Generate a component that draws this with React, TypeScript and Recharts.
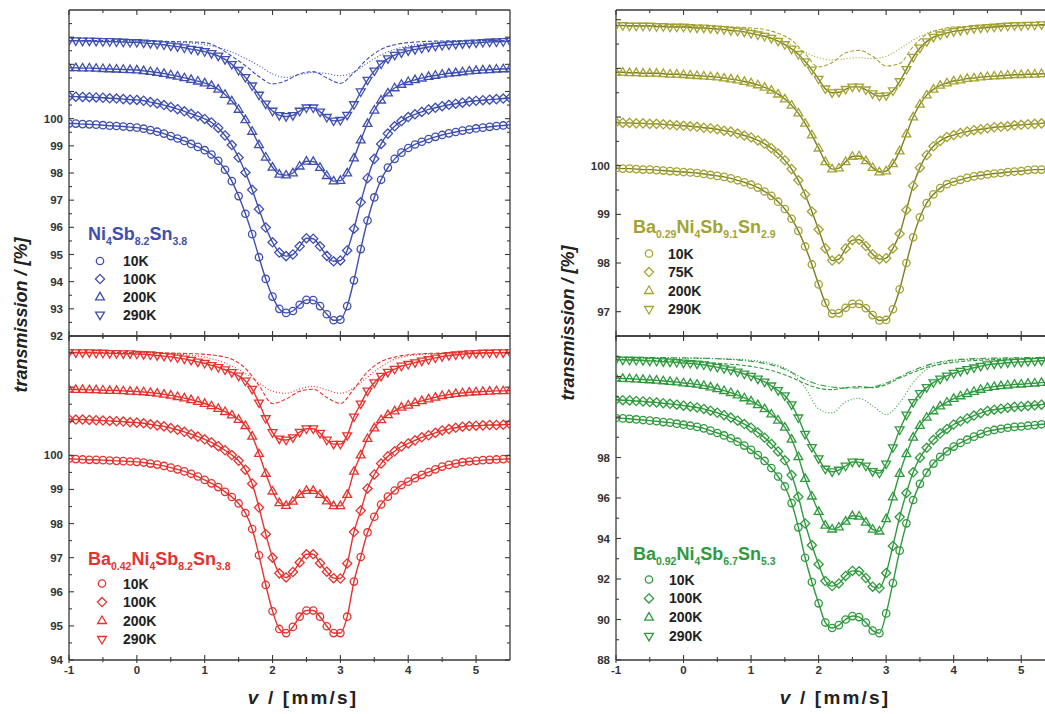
import React from 'react'
import { LineChart, Line, XAxis, YAxis } from 'recharts'

// velocity grid of the measured spectra (mm/s)
const V = [-1, -0.9, -0.8, -0.7, -0.6, -0.5, -0.4, -0.3, -0.2, -0.1, 0, 0.1, 0.2, 0.3, 0.4, 0.5, 0.6, 0.7, 0.8, 0.9, 1, 1.1, 1.2, 1.3, 1.4, 1.5, 1.6, 1.7, 1.8, 1.9, 2, 2.1, 2.2, 2.3, 2.4, 2.5, 2.6, 2.7, 2.8, 2.9, 3, 3.1, 3.2, 3.3, 3.4, 3.5, 3.6, 3.7, 3.8, 3.9, 4, 4.1, 4.2, 4.3, 4.4, 4.5, 4.6, 4.7, 4.8, 4.9, 5, 5.1, 5.2, 5.3, 5.4, 5.5]
// coarser grid for the sub-spectra of the 290K fits
const VC = [-1, -0.5, 0, 0.5, 1, 1.2, 1.4, 1.6, 1.8, 2, 2.2, 2.4, 2.6, 2.8, 3, 3.2, 3.4, 3.6, 3.8, 4, 4.5, 5, 5.5]

const XT = [-1, -0.5, 0, 0.5, 1, 1.5, 2, 2.5, 3, 3.5, 4, 4.5, 5]

// Ni4Sb8.2Sn3.8
const tl10 = [99.82, 99.82, 99.8, 99.79, 99.78, 99.76, 99.74, 99.73, 99.71, 99.69, 99.67, 99.63, 99.58, 99.52, 99.45, 99.36, 99.27, 99.18, 99.07, 98.96, 98.84, 98.68, 98.45, 98.12, 97.7, 97.15, 96.5, 95.75, 94.9, 94.1, 93.45, 93.0, 92.85, 92.92, 93.15, 93.33, 93.32, 93.1, 92.8, 92.58, 92.6, 93.1, 94.05, 95.2, 96.25, 97.1, 97.75, 98.2, 98.52, 98.75, 98.92, 99.05, 99.15, 99.25, 99.33, 99.4, 99.46, 99.51, 99.56, 99.6, 99.64, 99.67, 99.7, 99.73, 99.75, 99.77]
const tl100 = [100.82, 100.81, 100.8, 100.79, 100.78, 100.77, 100.75, 100.74, 100.72, 100.7, 100.69, 100.66, 100.61, 100.56, 100.5, 100.43, 100.35, 100.27, 100.18, 100.09, 99.99, 99.86, 99.66, 99.38, 99.03, 98.57, 98.02, 97.38, 96.67, 95.99, 95.45, 95.07, 94.94, 95.0, 95.3, 95.6, 95.58, 95.3, 94.95, 94.75, 94.78, 95.15, 95.95, 96.92, 97.81, 98.52, 99.07, 99.45, 99.72, 99.91, 100.06, 100.16, 100.25, 100.34, 100.4, 100.46, 100.51, 100.55, 100.59, 100.63, 100.66, 100.68, 100.7, 100.72, 100.74, 100.76]
const tl200 = [101.87, 101.87, 101.86, 101.86, 101.85, 101.84, 101.83, 101.82, 101.81, 101.8, 101.79, 101.76, 101.73, 101.7, 101.66, 101.61, 101.56, 101.5, 101.44, 101.38, 101.31, 101.22, 101.08, 100.89, 100.65, 100.34, 99.96, 99.53, 99.04, 98.58, 98.21, 97.95, 97.92, 98.0, 98.25, 98.43, 98.42, 98.2, 97.9, 97.7, 97.72, 98.0, 98.55, 99.21, 99.82, 100.31, 100.68, 100.94, 101.13, 101.26, 101.36, 101.43, 101.49, 101.55, 101.59, 101.63, 101.67, 101.69, 101.72, 101.75, 101.77, 101.79, 101.8, 101.82, 101.83, 101.84]
const tl290 = [102.87, 102.87, 102.86, 102.86, 102.85, 102.84, 102.84, 102.83, 102.82, 102.81, 102.81, 102.79, 102.77, 102.75, 102.72, 102.68, 102.65, 102.61, 102.56, 102.52, 102.47, 102.4, 102.31, 102.18, 102.0, 101.78, 101.52, 101.21, 100.87, 100.54, 100.28, 100.12, 100.08, 100.12, 100.28, 100.4, 100.4, 100.25, 100.05, 99.92, 99.94, 100.13, 100.52, 100.99, 101.42, 101.76, 102.02, 102.21, 102.34, 102.43, 102.5, 102.55, 102.59, 102.64, 102.67, 102.7, 102.72, 102.74, 102.76, 102.78, 102.79, 102.81, 102.82, 102.83, 102.84, 102.85]
const tlDash = [102.88, 102.87, 102.86, 102.84, 102.8, 102.62, 102.3, 101.95, 101.55, 101.28, 101.4, 101.65, 101.73, 101.5, 101.3, 101.7, 102.2, 102.55, 102.72, 102.8, 102.86, 102.87, 102.88]
const tlDot = [102.88, 102.87, 102.86, 102.83, 102.72, 102.62, 102.45, 102.22, 101.95, 101.65, 101.52, 101.62, 101.7, 101.66, 101.58, 101.72, 102.05, 102.35, 102.55, 102.68, 102.8, 102.85, 102.87]

// Ba0.42Ni4Sb8.2Sn3.8
const bl10 = [99.9, 99.89, 99.88, 99.87, 99.87, 99.86, 99.85, 99.84, 99.83, 99.82, 99.81, 99.79, 99.76, 99.73, 99.69, 99.64, 99.59, 99.53, 99.46, 99.38, 99.28, 99.18, 99.07, 98.93, 98.78, 98.59, 98.31, 97.84, 97.07, 96.2, 95.43, 94.91, 94.79, 94.97, 95.27, 95.45, 95.45, 95.27, 94.99, 94.79, 94.79, 95.27, 96.3, 97.02, 97.74, 98.2, 98.56, 98.79, 98.97, 99.13, 99.23, 99.33, 99.43, 99.51, 99.59, 99.67, 99.72, 99.76, 99.8, 99.82, 99.84, 99.86, 99.87, 99.88, 99.89, 99.9]
const bl100 = [101.06, 101.05, 101.05, 101.04, 101.03, 101.02, 101.01, 101.0, 100.99, 100.97, 100.96, 100.94, 100.91, 100.88, 100.85, 100.8, 100.75, 100.69, 100.62, 100.55, 100.47, 100.38, 100.27, 100.15, 100.01, 99.84, 99.58, 99.17, 98.47, 97.69, 97.0, 96.54, 96.42, 96.58, 96.86, 97.1, 97.1, 96.84, 96.59, 96.4, 96.39, 96.83, 97.75, 98.38, 99.03, 99.44, 99.76, 99.97, 100.12, 100.26, 100.35, 100.44, 100.53, 100.59, 100.66, 100.73, 100.77, 100.81, 100.84, 100.86, 100.87, 100.88, 100.89, 100.89, 100.9, 100.91]
const bl200 = [101.94, 101.93, 101.93, 101.92, 101.92, 101.91, 101.9, 101.9, 101.89, 101.88, 101.87, 101.86, 101.84, 101.82, 101.79, 101.76, 101.72, 101.68, 101.63, 101.58, 101.52, 101.45, 101.37, 101.28, 101.18, 101.05, 100.87, 100.56, 100.05, 99.47, 98.95, 98.61, 98.53, 98.65, 98.85, 98.97, 98.97, 98.85, 98.66, 98.52, 98.52, 98.85, 99.53, 100.01, 100.49, 100.8, 101.04, 101.19, 101.3, 101.41, 101.47, 101.54, 101.6, 101.65, 101.7, 101.75, 101.78, 101.81, 101.83, 101.85, 101.86, 101.87, 101.88, 101.89, 101.89, 101.9]
const bl290 = [103.02, 103.01, 103.01, 103.01, 103.0, 103.0, 102.99, 102.99, 102.98, 102.98, 102.97, 102.96, 102.95, 102.93, 102.91, 102.89, 102.86, 102.83, 102.79, 102.74, 102.7, 102.64, 102.58, 102.51, 102.43, 102.33, 102.18, 101.94, 101.54, 101.08, 100.67, 100.48, 100.45, 100.52, 100.68, 100.78, 100.78, 100.65, 100.45, 100.33, 100.33, 100.58, 101.13, 101.51, 101.89, 102.13, 102.32, 102.44, 102.53, 102.62, 102.67, 102.72, 102.77, 102.81, 102.86, 102.9, 102.93, 102.95, 102.97, 102.98, 102.99, 103.0, 103.0, 103.01, 103.01, 103.02]
const blDash = [103.02, 103.02, 103.01, 103.0, 102.96, 102.92, 102.82, 102.55, 102.05, 101.52, 101.65, 101.88, 101.94, 101.7, 101.52, 101.95, 102.45, 102.75, 102.88, 102.95, 103.0, 103.01, 103.02]
const blDot = [103.02, 103.02, 103.01, 102.98, 102.88, 102.78, 102.62, 102.4, 102.12, 101.88, 101.82, 101.95, 102.02, 101.92, 101.82, 101.98, 102.3, 102.6, 102.82, 102.92, 102.99, 103.01, 103.02]

// Ba0.29Ni4Sb9.1Sn2.9
const tr10 = [99.95, 99.94, 99.94, 99.93, 99.92, 99.92, 99.91, 99.9, 99.89, 99.88, 99.87, 99.86, 99.85, 99.83, 99.81, 99.79, 99.77, 99.74, 99.7, 99.66, 99.61, 99.55, 99.47, 99.38, 99.26, 99.11, 98.91, 98.66, 98.34, 97.97, 97.56, 97.18, 96.96, 96.97, 97.08, 97.16, 97.16, 97.07, 96.93, 96.82, 96.83, 97.05, 97.46, 98.0, 98.53, 98.94, 99.23, 99.41, 99.54, 99.62, 99.67, 99.71, 99.75, 99.78, 99.8, 99.82, 99.84, 99.85, 99.87, 99.88, 99.89, 99.91, 99.92, 99.92, 99.93, 99.94]
const tr75 = [100.89, 100.88, 100.88, 100.87, 100.87, 100.86, 100.86, 100.85, 100.84, 100.83, 100.82, 100.81, 100.8, 100.78, 100.77, 100.75, 100.72, 100.7, 100.66, 100.62, 100.58, 100.52, 100.45, 100.36, 100.25, 100.11, 99.93, 99.7, 99.41, 99.06, 98.69, 98.3, 98.05, 98.08, 98.3, 98.47, 98.48, 98.35, 98.18, 98.08, 98.1, 98.3, 98.6, 99.09, 99.59, 99.96, 100.22, 100.4, 100.51, 100.59, 100.63, 100.67, 100.7, 100.73, 100.75, 100.77, 100.79, 100.8, 100.81, 100.83, 100.84, 100.85, 100.86, 100.87, 100.88, 100.88]
const tr200 = [101.92, 101.92, 101.91, 101.91, 101.9, 101.9, 101.9, 101.89, 101.88, 101.88, 101.87, 101.86, 101.85, 101.84, 101.83, 101.82, 101.8, 101.78, 101.76, 101.73, 101.7, 101.66, 101.61, 101.55, 101.47, 101.37, 101.24, 101.08, 100.87, 100.63, 100.36, 100.08, 99.93, 99.95, 100.08, 100.19, 100.2, 100.1, 99.96, 99.87, 99.89, 100.04, 100.3, 100.65, 101.0, 101.26, 101.45, 101.57, 101.65, 101.7, 101.74, 101.76, 101.79, 101.8, 101.82, 101.83, 101.84, 101.85, 101.86, 101.87, 101.87, 101.88, 101.88, 101.89, 101.89, 101.89]
const tr290 = [102.88, 102.88, 102.87, 102.87, 102.87, 102.87, 102.86, 102.86, 102.85, 102.85, 102.85, 102.84, 102.83, 102.83, 102.82, 102.81, 102.8, 102.78, 102.77, 102.75, 102.72, 102.69, 102.66, 102.62, 102.56, 102.49, 102.4, 102.29, 102.14, 101.97, 101.78, 101.58, 101.5, 101.51, 101.57, 101.62, 101.62, 101.56, 101.48, 101.43, 101.44, 101.54, 101.73, 101.98, 102.23, 102.42, 102.55, 102.64, 102.69, 102.73, 102.76, 102.78, 102.8, 102.82, 102.83, 102.84, 102.85, 102.86, 102.87, 102.88, 102.88, 102.89, 102.89, 102.9, 102.9, 102.91]
const trDash = [102.88, 102.88, 102.87, 102.86, 102.83, 102.8, 102.72, 102.58, 102.3, 102.03, 102.12, 102.32, 102.37, 102.25, 102.05, 102.1, 102.45, 102.7, 102.8, 102.85, 102.87, 102.88, 102.88]
const trDot = [102.88, 102.88, 102.87, 102.85, 102.8, 102.73, 102.62, 102.48, 102.33, 102.22, 102.17, 102.2, 102.22, 102.2, 102.25, 102.4, 102.58, 102.72, 102.8, 102.85, 102.87, 102.88, 102.88]

// Ba0.92Ni4Sb6.7Sn5.3
const br10 = [99.95, 99.93, 99.91, 99.88, 99.85, 99.82, 99.79, 99.75, 99.72, 99.67, 99.62, 99.57, 99.51, 99.44, 99.33, 99.21, 99.09, 98.95, 98.78, 98.59, 98.38, 98.12, 97.83, 97.48, 97.06, 96.57, 95.75, 94.55, 93.05, 91.85, 90.8, 89.85, 89.58, 89.72, 90.0, 90.17, 90.12, 89.85, 89.45, 89.32, 90.3, 91.8, 93.4, 94.75, 95.9, 96.7, 97.25, 97.7, 98.03, 98.3, 98.54, 98.72, 98.88, 99.03, 99.17, 99.29, 99.36, 99.42, 99.47, 99.51, 99.53, 99.57, 99.6, 99.64, 99.67, 99.7]
const br100 = [100.85, 100.83, 100.82, 100.79, 100.77, 100.74, 100.72, 100.68, 100.65, 100.61, 100.56, 100.52, 100.47, 100.4, 100.31, 100.21, 100.09, 99.97, 99.82, 99.65, 99.47, 99.23, 98.98, 98.67, 98.3, 97.86, 97.13, 96.06, 94.74, 93.67, 92.73, 91.9, 91.65, 91.78, 92.15, 92.4, 92.38, 92.05, 91.62, 91.55, 92.3, 93.63, 95.06, 96.25, 97.27, 97.99, 98.48, 98.87, 99.18, 99.41, 99.63, 99.79, 99.93, 100.07, 100.19, 100.3, 100.36, 100.41, 100.46, 100.5, 100.52, 100.55, 100.58, 100.61, 100.65, 100.68]
const br200 = [101.92, 101.9, 101.89, 101.87, 101.85, 101.83, 101.81, 101.78, 101.75, 101.72, 101.68, 101.65, 101.61, 101.55, 101.48, 101.39, 101.3, 101.2, 101.08, 100.94, 100.79, 100.6, 100.4, 100.14, 99.84, 99.49, 98.9, 98.03, 96.96, 96.09, 95.33, 94.65, 94.46, 94.56, 94.85, 95.12, 95.1, 94.8, 94.45, 94.36, 94.97, 96.05, 97.21, 98.18, 99.0, 99.58, 99.98, 100.3, 100.54, 100.73, 100.91, 101.04, 101.15, 101.26, 101.36, 101.45, 101.5, 101.54, 101.57, 101.61, 101.62, 101.65, 101.67, 101.7, 101.72, 101.76]
const br290 = [102.83, 102.82, 102.81, 102.8, 102.79, 102.77, 102.76, 102.73, 102.72, 102.7, 102.67, 102.65, 102.62, 102.58, 102.52, 102.46, 102.39, 102.32, 102.23, 102.13, 102.02, 101.88, 101.73, 101.54, 101.31, 101.05, 100.61, 99.96, 99.15, 98.5, 97.94, 97.43, 97.3, 97.38, 97.58, 97.78, 97.77, 97.58, 97.31, 97.23, 97.68, 98.49, 99.37, 100.1, 100.72, 101.16, 101.46, 101.7, 101.88, 102.03, 102.16, 102.26, 102.35, 102.43, 102.51, 102.58, 102.62, 102.65, 102.68, 102.71, 102.72, 102.74, 102.76, 102.78, 102.8, 102.83]
const brDot = [102.9, 102.9, 102.9, 102.88, 102.8, 102.72, 102.55, 102.2, 101.45, 100.4, 100.2, 100.75, 100.92, 100.55, 100.12, 100.7, 101.7, 102.35, 102.65, 102.78, 102.87, 102.9, 102.9]
const brDash = [102.85, 102.8, 102.75, 102.65, 102.5, 102.38, 102.2, 101.95, 101.65, 101.42, 101.35, 101.45, 101.5, 101.45, 101.6, 101.92, 102.2, 102.45, 102.6, 102.7, 102.82, 102.87, 102.9]
const brDashDot = [102.95, 102.94, 102.92, 102.88, 102.75, 102.65, 102.48, 102.2, 101.85, 101.6, 101.48, 101.43, 101.43, 101.48, 101.68, 101.98, 102.3, 102.55, 102.72, 102.82, 102.9, 102.93, 102.95]

const TL_YT = [92, 92.5, 93, 93.5, 94, 94.5, 95, 95.5, 96, 96.5, 97, 97.5, 98, 98.5, 99, 99.5, 100, 100.5, 101, 101.5, 102, 102.5, 103, 103.5]
const BL_YT = [94, 94.5, 95, 95.5, 96, 96.5, 97, 97.5, 98, 98.5, 99, 99.5, 100, 100.5, 101, 101.5, 102, 102.5, 103]
const TR_YT = [97, 97.5, 98, 98.5, 99, 99.5, 100, 100.5, 101, 101.5, 102, 102.5, 103]
const BR_YT = [88, 89, 90, 91, 92, 93, 94, 95, 96, 97, 98, 99, 100, 101, 102, 103]

const TEMPS_A = ['10K', '100K', '200K', '290K']
const TEMPS_B = ['10K', '75K', '200K', '290K']
const SHAPES = ['circle', 'diamond', 'up', 'down']

const AX = '#3a3a3a'
const FONT = '"Liberation Sans", Arial, sans-serif'

const pts = (xs: number[], ys: number[]) => ys.map((t, i) => ({ v: xs[i], t }))

function Marker({ x, y, shape, color }: any) {
  if (shape === 'circle') return <circle cx={x} cy={y} r={3.7} fill="none" stroke={color} strokeWidth={1.3} />
  let d = ''
  if (shape === 'diamond') d = `M${x},${y - 4.6}L${x + 4.6},${y}L${x},${y + 4.6}L${x - 4.6},${y}Z`
  if (shape === 'up') d = `M${x},${y - 4.7}L${x + 4.4},${y + 2.8}L${x - 4.4},${y + 2.8}Z`
  if (shape === 'down') d = `M${x},${y + 4.7}L${x + 4.4},${y - 2.8}L${x - 4.4},${y - 2.8}Z`
  return <path d={d} fill="none" stroke={color} strokeWidth={1.3} />
}

const makeDot = (shape: string, color: string) => (p: any) => (
  <Marker key={p.index} x={p.cx} y={p.cy} shape={shape} color={color} />
)

const tickText = { fontFamily: FONT, fontSize: 11.5, fontWeight: 'bold' as const, fill: '#333' }

const isMajor = (v: number, step: number) => Math.abs(v / step - Math.round(v / step)) < 1e-6

const makeTick = (side: string, step: number, maxLabel: number) => (p: any) => {
  const v = p.payload.value
  const major = isMajor(v, step)
  const len = major ? 5 : 3
  const show = major && v <= maxLabel
  const { x, y } = p
  if (side === 'left')
    return (
      <g key={p.index}>
        <line x1={x} x2={x + len} y1={y} y2={y} stroke={AX} strokeWidth={1.1} />
        {show && <text x={x - 6} y={y + 4} textAnchor="end" {...tickText}>{v}</text>}
      </g>
    )
  if (side === 'right')
    return <line key={p.index} x1={x} x2={x - len} y1={y} y2={y} stroke={AX} strokeWidth={1.1} />
  if (side === 'top')
    return <line key={p.index} x1={x} x2={x} y1={y} y2={y + len} stroke={AX} strokeWidth={1.1} />
  return (
    <g key={p.index}>
      <line x1={x} x2={x} y1={y - len} y2={y + (major ? 3 : 2)} stroke={AX} strokeWidth={1.1} />
      {show && <text x={x} y={y + 14} textAnchor="middle" {...tickText}>{v}</text>}
    </g>
  )
}

function Panel({ x, y, w, h, domain, ticks, step, maxLabel, xLabels, line, mark, spectra, comps }: any) {
  const W = w + 60
  const H = h + 40
  const axLine = { stroke: AX, strokeWidth: 1.3 }
  return (
    <div style={{ position: 'absolute', left: x - 50, top: y - 10, width: W, height: H }}>
      <LineChart width={W} height={H} margin={{ top: 9, right: 9, bottom: 0, left: 10 }}>
        <XAxis type="number" dataKey="v" domain={[-1, 5.5]} ticks={XT} interval={0} allowDataOverflow
          height={30} tickSize={0} tickMargin={0} tickLine={false}
          axisLine={axLine} tick={makeTick('bottom', 1, xLabels ? 5 : -99)} />
        <XAxis xAxisId="top" orientation="top" type="number" dataKey="v" domain={[-1, 5.5]} ticks={XT} interval={0}
          allowDataOverflow height={1} tickSize={0} tickMargin={0} tickLine={false}
          axisLine={axLine} tick={makeTick('top', 1, -99)} />
        <YAxis type="number" domain={domain} ticks={ticks} interval={0} allowDataOverflow
          width={40} tickSize={0} tickMargin={0} tickLine={false}
          axisLine={axLine} tick={makeTick('left', step, maxLabel)} />
        <YAxis yAxisId="right" orientation="right" type="number" domain={domain} ticks={ticks} interval={0}
          allowDataOverflow width={1} tickSize={0} tickMargin={0} tickLine={false}
          axisLine={axLine} tick={makeTick('right', step, -99)} />
        {comps.map((c: any, i: number) => (
          <Line key={'c' + i} data={pts(VC, c.ys)} dataKey="t" type="monotone" stroke={mark}
            strokeWidth={1.1} strokeDasharray={c.dash} dot={false} isAnimationActive={false} />
        ))}
        {spectra.map((ys: number[], i: number) => (
          <Line key={'s' + i} data={pts(V, ys)} dataKey="t" type="monotone" stroke={line}
            strokeWidth={1.4} dot={makeDot(SHAPES[i], mark)} isAnimationActive={false} />
        ))}
      </LineChart>
    </div>
  )
}

function Legend({ tx, ty, parts, color, mx, lx, ry, dy, temps }: any) {
  return (
    <g>
      <text x={tx} y={ty} fill={color} fontFamily={FONT} fontSize={18} fontWeight="bold">
        {parts.map((p: string[], i: number) => (
          <React.Fragment key={i}>
            <tspan dy={i === 0 ? 0 : -5}>{p[0]}</tspan>
            <tspan dy={5} fontSize={10.5}>{p[1]}</tspan>
          </React.Fragment>
        ))}
      </text>
      {temps.map((t: string, i: number) => (
        <g key={t}>
          <Marker x={mx} y={ry + i * dy} shape={SHAPES[i]} color={color} />
          <text x={lx} y={ry + i * dy + 5} fontFamily={FONT} fontSize={14} fontWeight="bold" fill="#222">{t}</text>
        </g>
      ))}
    </g>
  )
}

const BLUE = '#3f4fb0'
const RED = '#e5332f'
const OLIVE = '#a3a332'
const OLIVE_LINE = '#7d7d22'
const GREEN = '#2f9a3e'

export default function App() {
  const titleStyle = { fontFamily: FONT, fontWeight: 'bold' as const, fill: '#222' }
  return (
    <div style={{ position: 'fixed', left: 0, top: 0, width: 1045, height: 714, overflow: 'hidden', background: '#fff' }}>
      <Panel x={69} y={10} w={441} h={326} domain={[92, 104]} ticks={TL_YT} step={1} maxLabel={100} xLabels={false}
        line={BLUE} mark={BLUE} spectra={[tl10, tl100, tl200, tl290]}
        comps={[{ ys: tlDot, dash: '1 2' }, { ys: tlDash, dash: '4 2' }]} />
      <Panel x={69} y={336} w={441} h={324} domain={[94, 103.5]} ticks={BL_YT} step={1} maxLabel={100} xLabels
        line={RED} mark={RED} spectra={[bl10, bl100, bl200, bl290]}
        comps={[{ ys: blDot, dash: '1 2' }, { ys: blDash, dash: '4 2' }]} />
      <Panel x={616} y={10} w={439} h={326} domain={[96.5, 103.2]} ticks={TR_YT} step={1} maxLabel={100} xLabels={false}
        line={OLIVE_LINE} mark={OLIVE} spectra={[tr10, tr75, tr200, tr290]}
        comps={[{ ys: trDot, dash: '1 2' }, { ys: trDash, dash: '4 2' }]} />
      <Panel x={616} y={336} w={439} h={324} domain={[88, 104]} ticks={BR_YT} step={2} maxLabel={98} xLabels
        line={GREEN} mark={GREEN} spectra={[br10, br100, br200, br290]}
        comps={[{ ys: brDot, dash: '1 2' }, { ys: brDash, dash: '4 2' }, { ys: brDashDot, dash: '6 2 1 2' }]} />
      <svg width={1045} height={714} style={{ position: 'absolute', left: 0, top: 0, pointerEvents: 'none' }}>
        <Legend tx={88} ty={240} parts={[['Ni', '4'], ['Sb', '8.2'], ['Sn', '3.8']]} color={BLUE}
          mx={100} lx={123} ry={261} dy={18} temps={TEMPS_A} />
        <Legend tx={88} ty={565} parts={[['Ba', '0.42'], ['Ni', '4'], ['Sb', '8.2'], ['Sn', '3.8']]} color={RED}
          mx={102} lx={123} ry={583.5} dy={18.6} temps={TEMPS_A} />
        <Legend tx={633} ty={233} parts={[['Ba', '0.29'], ['Ni', '4'], ['Sb', '9.1'], ['Sn', '2.9']]} color={OLIVE}
          mx={649} lx={668} ry={253.5} dy={18.6} temps={TEMPS_B} />
        <Legend tx={633} ty={560} parts={[['Ba', '0.92'], ['Ni', '4'], ['Sb', '6.7'], ['Sn', '5.3']]} color={GREEN}
          mx={649} lx={669} ry={579.5} dy={18.9} temps={TEMPS_A} />
        <text x={27} y={315} transform="rotate(-90 27 315)" textAnchor="middle" fontSize={18} fontStyle="italic" {...titleStyle}>
          transmission / [%]
        </text>
        <text x={574} y={323} transform="rotate(-90 574 323)" textAnchor="middle" fontSize={18} fontStyle="italic" {...titleStyle}>
          transmission / [%]
        </text>
        <text x={303} y={704} textAnchor="middle" fontSize={19} letterSpacing={2.2} {...titleStyle}>
          <tspan fontStyle="italic">v</tspan> / [mm/s]
        </text>
        <text x={835} y={704} textAnchor="middle" fontSize={19} letterSpacing={2.2} {...titleStyle}>
          <tspan fontStyle="italic">v</tspan> / [mm/s]
        </text>
      </svg>
    </div>
  )
}
